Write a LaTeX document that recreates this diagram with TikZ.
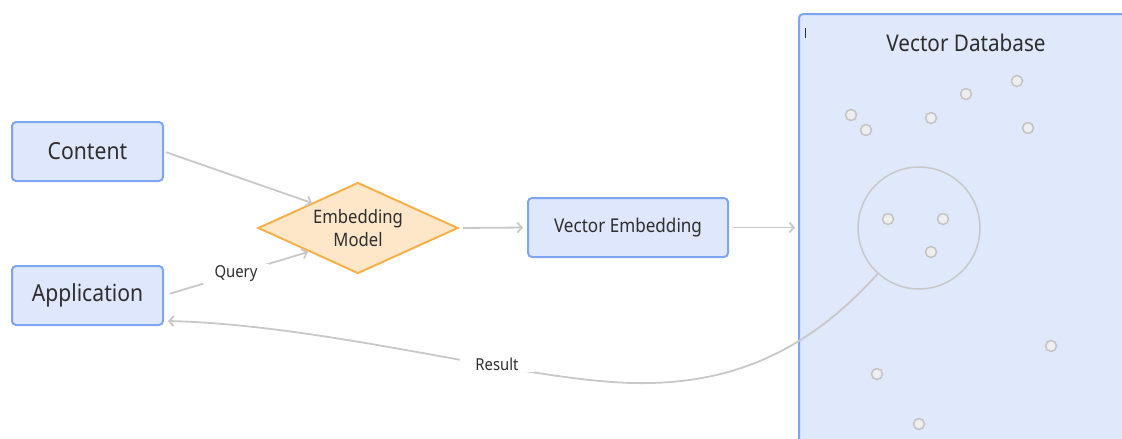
\documentclass[tikz,border=0pt]{standalone}
\usepackage{fontspec}
\setmainfont[FakeStretch=0.9]{Noto Sans}
\usetikzlibrary{shapes.geometric,arrows.meta}
\definecolor{boxfill}{HTML}{DEE7FC}
\definecolor{boxdraw}{HTML}{7FA5F0}
\definecolor{dbfill}{HTML}{E0E8FC}
\definecolor{difill}{HTML}{FDE7C8}
\definecolor{didraw}{HTML}{F4B14A}
\definecolor{linegrey}{HTML}{C8C8C8}
\definecolor{dotfill}{HTML}{EEEEEE}
\definecolor{dotdraw}{HTML}{C3C3C3}
\definecolor{txt}{HTML}{2E2E2E}
\tikzset{
  bluebox/.style={draw=boxdraw, fill=boxfill, line width=2pt, rounded corners=4pt, inner sep=0pt, text=txt},
  conn/.style={draw=linegrey, line width=1.8pt, -{Straight Barb[length=4.5pt,width=10pt]}},
  dbdot/.style={circle, draw=dotdraw, fill=dotfill, line width=1.5pt, minimum size=11pt, inner sep=0pt},
  lbl/.style={fill=white, text=txt, inner ysep=2pt}
}
\begin{document}
\begin{tikzpicture}[x=1pt,y=-1pt]
\useasboundingbox (0,0) rectangle (1122,439);
% Vector database
\node[draw=boxdraw, fill=dbfill, line width=2pt, rounded corners=4pt, minimum width=342pt, minimum height=447pt, inner sep=0pt, anchor=north west] (db) at (798,13) {};
\node[text=txt, font=\fontsize{23}{27}\selectfont] (dbtitle) at (966,43) {Vector Database};
\draw[txt, line width=0.8pt] (805,28) -- (805,38);
\node[circle, draw=linegrey, line width=1.5pt, minimum size=122pt, inner sep=0pt] (clus) at (919,228) {};
\foreach \i/\x/\y in {1/851/115,2/866/130,3/931/118,4/966/94,5/1017/81,6/1028/128,7/888/219,8/943/219,9/931/252,10/1051/346,11/877/374,12/919/424}
  \node[dbdot] (d\i) at (\x,\y) {};
% Left nodes
\node[bluebox, minimum width=151pt, minimum height=59pt, font=\fontsize{23.5}{27}\selectfont] (content) at (87.5,151.5) {Content};
\node[bluebox, minimum width=151pt, minimum height=59pt, font=\fontsize{23.5}{27}\selectfont] (app) at (87.5,295.5) {Application};
\node[diamond, aspect=2.2, draw=didraw, fill=difill, line width=2pt, minimum width=200pt, minimum height=91pt, inner sep=0pt, text=txt, align=center, font=\fontsize{18.5}{23}\selectfont] (emb) at (358,228) {Embedding\\Model};
\node[bluebox, minimum width=200pt, minimum height=59pt, font=\fontsize{19}{22}\selectfont] (ve) at (628,227.5) {Vector Embedding};
% Connectors
\draw[conn, shorten <=2pt] (content.east) -- (312,203);
\draw[conn, shorten <=6pt] (app.east) -- node[lbl, inner xsep=12pt, font=\fontsize{16.5}{20}\selectfont] (q) {Query} (308,252);
\draw[conn, shorten <=4pt, shorten >=4pt] (emb.east) -- (ve.west);
\draw[conn, shorten <=4pt, shorten >=3pt] (ve.east) -- (ve.east -| db.west);
\draw[conn] (clus.228) .. controls (800,360) and (720,385) .. (632,383)
   .. controls (520,380) and (330,325) .. ([shift={(4,-5)}]app.south east);
\node[lbl, inner xsep=15pt, font=\fontsize{16.5}{20}\selectfont] (res) at (497,364) {Result};
\end{tikzpicture}
\end{document}
